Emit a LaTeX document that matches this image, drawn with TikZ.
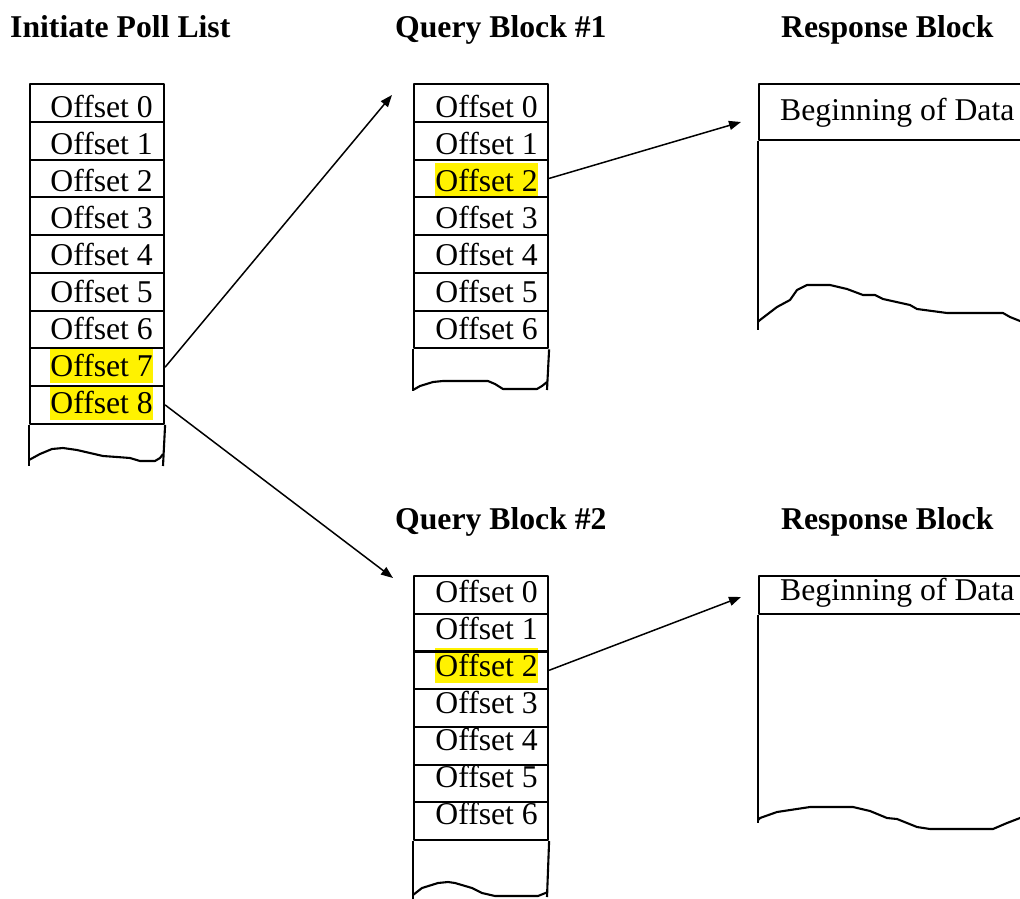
\documentclass[tikz,border=0pt]{standalone}
\usepackage{fontspec}
\setmainfont{Liberation Serif}
\usetikzlibrary{arrows.meta}
\begin{document}
\begin{tikzpicture}[x=1pt,y=-1pt,line join=round,
  cellbox/.style={draw,line width=2.1pt,minimum width=134pt,minimum height=37.75pt,inner sep=0pt,anchor=north west},
  cellboxb/.style={cellbox,minimum height=37.7pt},
  off/.style={inner sep=0pt,text height=28pt,text depth=6.5pt,anchor=base east,font=\fontsize{31.7}{38}\selectfont},
  hl/.style={off,fill=yellow},
  datatext/.style={inner sep=0pt,anchor=base west,font=\fontsize{31.7}{38}\selectfont},
  ttl/.style={inner sep=0pt,anchor=base west,font=\fontsize{31.7}{38}\selectfont\bfseries},
  edge/.style={line width=2.1pt},
  hdr/.style={draw,line width=2.1pt,minimum width=300pt,inner sep=0pt,anchor=north west},
  conn/.style={line width=1.5pt,-{Triangle[length=12pt,width=9pt]}}]
\useasboundingbox (0,0) rectangle (1020,899);
\clip (0,0) rectangle (1020,899);

% titles
\node[ttl] (t1) at (10,38) {Initiate Poll List};
\node[ttl] (t2) at (395,38) {Query Block \#1};
\node[ttl] (t3) at (781,38) {Response Block};
\node[ttl] (t4) at (395,529) {Query Block \#2};
\node[ttl] (t5) at (781,529) {Response Block};

% texts of the left list
\foreach \i in {0,...,6} \node[off] (Lt\i) at (153,117+37.1*\i) {Offset \i};
\node[hl] (Lt7) at (153,117+37.1*7) {Offset 7};
\node[hl] (Lt8) at (153,117+37.1*8) {Offset 8};

% texts of query block 1
\foreach \i in {0,1,3,4,5,6} \node[off] (Q1t\i) at (538,117+37.1*\i) {Offset \i};
\node[hl] (Q1t2) at (538,117+37.1*2) {Offset 2};

% texts of query block 2
\foreach \i in {0,1,3,4,5,6} \node[off] (Q2t\i) at (538,602+37*\i) {Offset \i};
\node[hl] (Q2t2) at (538,602+37*2) {Offset 2};

% cells
\foreach \i in {0,...,8} \node[cellbox] (L\i) at (29,83+37.75*\i) {};
\foreach \i in {0,...,6} \node[cellbox] (Q1c\i) at (413,83+37.75*\i) {};
\foreach \i in {0,...,6} \node[cellboxb] (Q2c\i) at (413,575+37.7*\i) {};

% open bottoms
\draw[edge] (L8.south west) -- (29,466);
\draw[edge] (L8.south east) -- (163,466);
\draw[edge] (29,460) -- (40,454) -- (52,449) -- (63,448) -- (77,450) -- (90,453) -- (103,456) -- (117,457) -- (130,458) -- (140,461) -- (155,461) -- (160,458) -- (163,454);

\draw[edge] (Q1c6.south west) -- (413,391);
\draw[edge] (Q1c6.south east) -- (547,390);
\draw[edge] (413,390) -- (420,386) -- (433,382) -- (443,381) -- (488,381) -- (495,384) -- (503,389) -- (537,389) -- (542,386) -- (547,382);

\draw[edge] (Q2c6.south west) -- (413,899);
\draw[edge] (Q2c6.south east) -- (547,897);
\draw[edge] (413,895) -- (422,888) -- (438,883) -- (448,882) -- (455,883) -- (472,888) -- (482,893) -- (495,896) -- (538,896) -- (548,892);

% response blocks
\node[hdr,minimum height=56pt] (R1h) at (758,83) {};
\node[datatext] (R1t) at (780,120) {Beginning of Data};
\draw[edge] (R1h.south west) -- (758,330);
\draw[edge] (758,322) -- (760,320) -- (777,307) -- (790,300) -- (797,290) -- (807,285) -- (830,285) -- (847,289) -- (863,295) -- (875,295) -- (883,299) -- (910,305) -- (917,309) -- (947,313) -- (1003,313) -- (1010,317) -- (1020,321) -- (1030,325);

\node[hdr,minimum height=38pt] (R2h) at (758,575) {};
\node[datatext] (R2t) at (780,600) {Beginning of Data};
\draw[edge] (R2h.south west) -- (758,823);
\draw[edge] (758,820) -- (760,818) -- (777,812) -- (810,807) -- (853,807) -- (870,811) -- (887,818) -- (897,819) -- (917,827) -- (930,829) -- (993,829) -- (1007,823) -- (1020,818) -- (1030,815);

% connectors
\coordinate (a1) at (392,95);
\coordinate (a2) at (393,578);
\coordinate (a3) at (741,122);
\coordinate (a4) at (741,597);
\draw[conn] (L7.east) -- (a1);
\draw[conn] (L8.east) -- (a2);
\draw[conn] (Q1c2.east) -- (a3);
\draw[conn] (Q2c2.east) -- (a4);
\end{tikzpicture}
\end{document}
